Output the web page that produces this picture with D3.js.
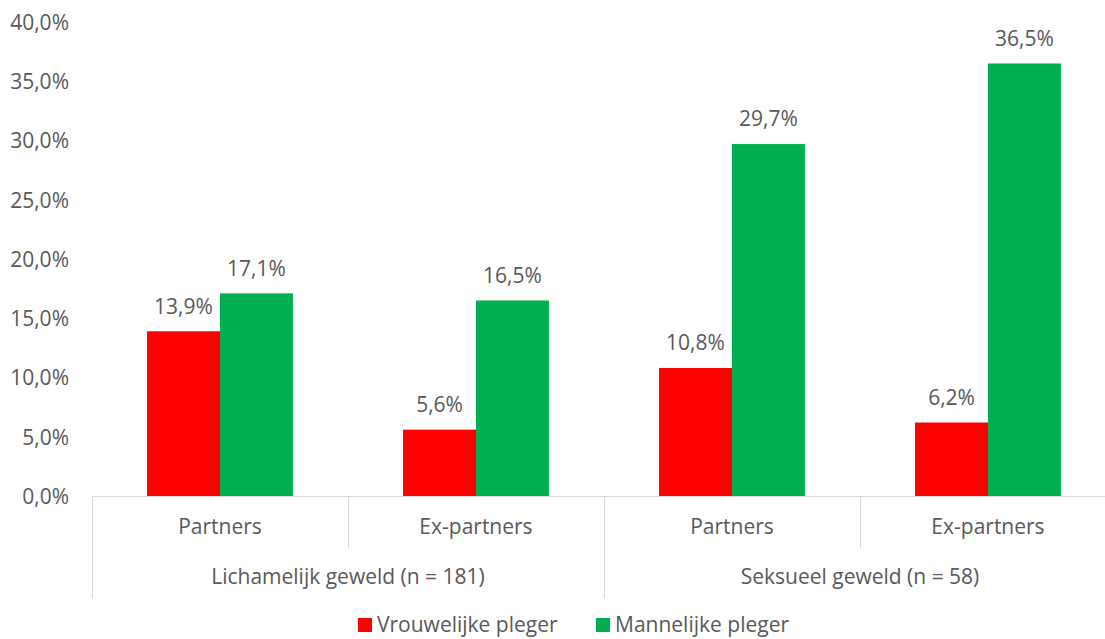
<!DOCTYPE html>
<html><head><meta charset="utf-8">
<script src="https://cdn.jsdelivr.net/npm/d3@7"></script>
<style>body{margin:0;background:#fff}svg{display:block}text{font-family:"Open Sans",sans-serif;fill:#595959}</style>
</head><body><svg id="c" width="1105" height="639"></svg>
<script>
const groups = ["Lichamelijk geweld (n = 181)", "Seksueel geweld (n = 58)"];
const subcats = ["Partners", "Ex-partners"];
const series = ["Vrouwelijke pleger", "Mannelijke pleger"];
const colors = ["#ff0000", "#00b050"];
const vrouw = [13.9, 5.6, 10.8, 6.2];
const man = [17.1, 16.5, 29.7, 36.5];
const yTicks = [0,5,10,15,20,25,30,35,40];

(function(){
const FS = "21px";
const svg = d3.select("#c");
const pLeft = 92, pRight = 1116, pTop = 22, pBottom = 496;
const cats = [];
groups.forEach((g,gi)=>subcats.forEach((s,si)=>cats.push({g:gi,s, key:gi+"-"+si})));
const data = cats.map((c,i)=>({...c, vals:[vrouw[i], man[i]]}));

const x = d3.scaleBand().domain(cats.map(c=>c.key)).range([pLeft,pRight]).paddingInner(0).paddingOuter(0);
const xs = d3.scaleBand().domain(series).range([0, x.bandwidth()]).paddingInner(0).paddingOuter(0.755);
const y = d3.scaleLinear().domain([0,40]).range([pBottom, pTop]);
const fmt = v => d3.format(".1f")(v).replace(".", ",") + "%";

const ya = svg.append("g").attr("transform",`translate(${pLeft-23},0)`).call(d3.axisLeft(y).tickValues(yTicks).tickFormat(fmt).tickSize(0));
ya.select(".domain").remove();
ya.selectAll("text").style("font-size",FS).style("font-family","'Open Sans',sans-serif").attr("fill","#595959").attr("dy","0.35em").attr("x",0);

const cg = svg.append("g").selectAll("g").data(data).join("g").attr("transform",d=>`translate(${x(d.key)},0)`);
cg.selectAll("rect").data(d=>d.vals.map((v,i)=>({v,s:series[i],i}))).join("rect")
  .attr("x",d=>xs(d.s)).attr("width",xs.bandwidth())
  .attr("y",d=>y(d.v)).attr("height",d=>pBottom-y(d.v)).attr("fill",d=>colors[d.i]);
cg.selectAll("text.v").data(d=>d.vals.map((v,i)=>({v,s:series[i],i}))).join("text").attr("class","v")
  .attr("x",d=>xs(d.s)+xs.bandwidth()/2).attr("y",d=>y(d.v)-25).attr("dy","0.35em")
  .attr("text-anchor","middle").style("font-size",FS).text(d=>fmt(d.v));

const lc = "#d9d9d9";
svg.append("line").attr("x1",pLeft).attr("x2",pRight).attr("y1",pBottom+0.5).attr("y2",pBottom+0.5).attr("stroke",lc);
cats.forEach((c,i)=>{
  const xx = Math.round(x(c.key))+0.5;
  const long = c.s==="Partners";
  svg.append("line").attr("x1",xx).attr("x2",xx).attr("y1",pBottom).attr("y2",long?598:548).attr("stroke",lc);
});
svg.append("line").attr("x1",pRight-0.5).attr("x2",pRight-0.5).attr("y1",pBottom).attr("y2",598).attr("stroke",lc);
svg.append("g").selectAll("text").data(cats).join("text")
  .attr("x",d=>x(d.key)+x.bandwidth()/2).attr("y",527).attr("dy","0.35em").attr("text-anchor","middle")
  .style("font-size",FS).text(d=>d.s);
svg.append("g").selectAll("text").data(groups).join("text")
  .attr("x",(d,i)=>x(i+"-0")+x.bandwidth()).attr("y",577).attr("dy","0.35em").attr("text-anchor","middle")
  .style("font-size",FS).text(d=>d);

const lg = svg.append("g");
const lx = [358, 596];
series.forEach((s,i)=>{
  lg.append("rect").attr("x",lx[i]).attr("y",618).attr("width",14).attr("height",14).attr("fill",colors[i]);
  lg.append("text").attr("x",lx[i]+19).attr("y",625).attr("dy","0.35em").style("font-size",FS).text(s);
});
})();
</script></body></html>
